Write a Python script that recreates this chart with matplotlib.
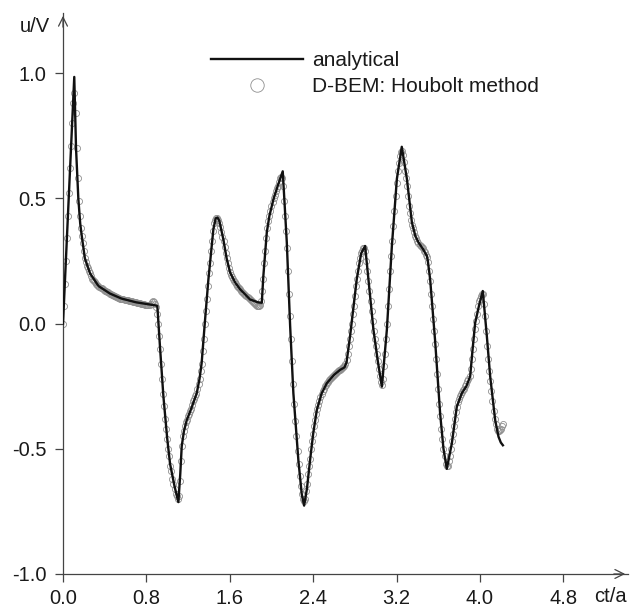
import numpy as np
import matplotlib.pyplot as plt

plt.rcParams['font.family'] = ['Liberation Sans', 'DejaVu Sans']
plt.rcParams['axes.unicode_minus'] = False

# analytical solution
t_exact = [0.00, 0.108, 0.125, 0.147, 0.165, 0.18, 0.21, 0.26, 0.34, 0.45,
           0.56, 0.70, 0.88, 0.905, 0.93, 0.963, 1.00, 1.027, 1.07, 1.107,
           1.125, 1.139, 1.16, 1.187, 1.23, 1.283, 1.31, 1.33, 1.363, 1.395,
           1.443, 1.465, 1.481, 1.50, 1.538, 1.57, 1.603, 1.65, 1.699, 1.795,
           1.87, 1.907, 1.922, 1.955, 1.98, 2.02, 2.06, 2.108, 2.147, 2.179,
           2.21, 2.258, 2.29, 2.313, 2.34, 2.37, 2.40, 2.435, 2.48, 2.531,
           2.60, 2.658, 2.70, 2.72, 2.754, 2.785, 2.818, 2.86, 2.898, 2.93,
           2.978, 3.02, 3.059, 3.107, 3.155, 3.203, 3.25, 3.299, 3.347, 3.38,
           3.41, 3.45, 3.491, 3.50, 3.522, 3.57, 3.618, 3.65, 3.682, 3.73,
           3.778, 3.826, 3.87, 3.906, 3.93, 3.954, 3.99, 4.027, 4.066, 4.098,
           4.146, 4.178, 4.20, 4.22]
u_exact = [0.00, 0.985, 0.70, 0.50, 0.40, 0.35, 0.26, 0.20, 0.15, 0.12,
           0.10, 0.085, 0.073, 0.07, -0.09, -0.29, -0.46, -0.56, -0.65, -0.713,
           -0.60, -0.49, -0.43, -0.386, -0.34, -0.278, -0.22, -0.158, 0.016, 0.177,
           0.378, 0.42, 0.424, 0.41, 0.337, 0.26, 0.204, 0.165, 0.137, 0.096,
           0.085, 0.083, 0.19, 0.364, 0.43, 0.498, 0.55, 0.608, 0.324, -0.01,
           -0.278, -0.546, -0.68, -0.727, -0.66, -0.546, -0.44, -0.345, -0.28, -0.238,
           -0.205, -0.185, -0.175, -0.155, -0.05, 0.06, 0.177, 0.28, 0.31, 0.177,
           -0.024, -0.15, -0.252, -0.024, 0.31, 0.578, 0.706, 0.578, 0.404, 0.35,
           0.324, 0.30, 0.27, 0.25, 0.177, -0.07, -0.36, -0.50, -0.58, -0.479,
           -0.332, -0.278, -0.25, -0.211, -0.10, 0.003, 0.07, 0.13, -0.05, -0.211,
           -0.386, -0.452, -0.475, -0.486]

# D-BEM (Houbolt) samples, time step 0.01
dt = 0.01
u_bem = [
    0.00, 0.07, 0.16, 0.25, 0.34, 0.43, 0.52, 0.62, 0.71, 0.80,
    0.88, 0.92, 0.84, 0.70, 0.58, 0.49, 0.43, 0.38, 0.35, 0.32,
    0.29, 0.26, 0.245, 0.23, 0.22, 0.21, 0.20, 0.19, 0.18, 0.175,
    0.17, 0.165, 0.16, 0.155, 0.15, 0.147, 0.144, 0.141, 0.138, 0.135,
    0.132, 0.130, 0.127, 0.125, 0.122, 0.12, 0.118, 0.116, 0.114, 0.112,
    0.11, 0.108, 0.106, 0.104, 0.102, 0.10, 0.099, 0.098, 0.097, 0.096,
    0.095, 0.094, 0.093, 0.092, 0.091, 0.090, 0.089, 0.088, 0.087, 0.086,
    0.085, 0.084, 0.083, 0.082, 0.081, 0.080, 0.079, 0.078, 0.077, 0.076,
    0.076, 0.075, 0.075, 0.075, 0.078, 0.085, 0.09, 0.088, 0.078, 0.065,
    0.04, 0.00, -0.05, -0.10, -0.16, -0.22, -0.28, -0.33, -0.38, -0.42,
    -0.46, -0.50, -0.53, -0.57, -0.59, -0.62, -0.64, -0.66, -0.68, -0.69,
    -0.70, -0.69, -0.63, -0.55, -0.49, -0.45, -0.43, -0.41, -0.395, -0.385,
    -0.37, -0.36, -0.35, -0.34, -0.325, -0.31, -0.30, -0.29, -0.28, -0.26,
    -0.24, -0.22, -0.19, -0.16, -0.11, -0.06, 0.00, 0.05, 0.10, 0.15,
    0.20, 0.24, 0.29, 0.33, 0.37, 0.40, 0.415, 0.42, 0.42, 0.415,
    0.40, 0.385, 0.365, 0.345, 0.33, 0.305, 0.28, 0.26, 0.24, 0.22,
    0.205, 0.195, 0.185, 0.178, 0.17, 0.165, 0.158, 0.152, 0.146, 0.141,
    0.137, 0.132, 0.127, 0.122, 0.118, 0.114, 0.11, 0.106, 0.102, 0.098,
    0.094, 0.09, 0.086, 0.082, 0.078, 0.074, 0.071, 0.069, 0.07, 0.075,
    0.09, 0.13, 0.18, 0.24, 0.29, 0.34, 0.38, 0.41, 0.43, 0.45,
    0.47, 0.485, 0.50, 0.515, 0.53, 0.54, 0.55, 0.565, 0.58, 0.585,
    0.58, 0.55, 0.49, 0.43, 0.37, 0.30, 0.21, 0.12, 0.03, -0.06,
    -0.15, -0.24, -0.32, -0.39, -0.45, -0.51, -0.56, -0.61, -0.65, -0.68,
    -0.70, -0.71, -0.70, -0.67, -0.64, -0.60, -0.57, -0.54, -0.50, -0.47,
    -0.44, -0.41, -0.385, -0.36, -0.34, -0.325, -0.31, -0.295, -0.28, -0.27,
    -0.26, -0.25, -0.245, -0.238, -0.232, -0.226, -0.222, -0.218, -0.214, -0.21,
    -0.205, -0.20, -0.197, -0.193, -0.19, -0.187, -0.184, -0.181, -0.178, -0.175,
    -0.17, -0.16, -0.145, -0.12, -0.09, -0.06, -0.03, 0.00, 0.04, 0.07,
    0.11, 0.15, 0.18, 0.21, 0.24, 0.26, 0.28, 0.29, 0.30, 0.30,
    0.29, 0.25, 0.21, 0.17, 0.13, 0.09, 0.05, 0.01, -0.03, -0.06,
    -0.09, -0.12, -0.15, -0.18, -0.21, -0.235, -0.245, -0.22, -0.17, -0.12,
    -0.06, 0.00, 0.07, 0.14, 0.21, 0.27, 0.33, 0.39, 0.45, 0.51,
    0.56, 0.61, 0.64, 0.67, 0.685, 0.69, 0.675, 0.645, 0.61, 0.58,
    0.55, 0.51, 0.47, 0.44, 0.415, 0.395, 0.38, 0.365, 0.35, 0.34,
    0.33, 0.32, 0.315, 0.31, 0.305, 0.30, 0.29, 0.285, 0.275, 0.265,
    0.245, 0.21, 0.17, 0.12, 0.07, 0.02, -0.03, -0.08, -0.14, -0.20,
    -0.26, -0.32, -0.37, -0.42, -0.46, -0.50, -0.53, -0.56, -0.57, -0.57,
    -0.55, -0.53, -0.50, -0.47, -0.44, -0.41, -0.38, -0.355, -0.335, -0.315,
    -0.30, -0.29, -0.28, -0.275, -0.265, -0.26, -0.25, -0.24, -0.23, -0.22,
    -0.21, -0.18, -0.14, -0.10, -0.06, -0.02, 0.01, 0.04, 0.07, 0.09,
    0.10, 0.11, 0.12, 0.12, 0.08, 0.03, -0.03, -0.09, -0.14, -0.19,
    -0.23, -0.27, -0.31, -0.35, -0.38, -0.40, -0.42, -0.43, -0.43, -0.425,
    -0.42, -0.41, -0.40]
t_bem = np.arange(len(u_bem)) * dt

x_ticks = [0.0, 0.8, 1.6, 2.4, 3.2, 4.0, 4.8]
y_ticks = [-1.0, -0.5, 0.0, 0.5, 1.0]

fig = plt.figure(figsize=(6.3, 6.11), dpi=100)
ax = fig.add_axes([0.1, 0.0606, 0.8968, 0.918])

ax.plot(t_bem, u_bem, 'o', ms=4.4, mfc='none', mec='#8f8f8f', mew=0.6,
        label='D-BEM: Houbolt method', zorder=2)
ax.plot(t_exact, u_exact, '-', color='#111111', lw=1.7,
        label='analytical', zorder=3)

ax.set_xlim(0, 5.42)
ax.set_ylim(-1.0, 1.24)
ax.set_xticks(x_ticks)
ax.set_yticks(y_ticks)
ax.set_xticklabels(['%.1f' % v for v in x_ticks])
ax.set_yticklabels(['%.1f' % v for v in y_ticks])

axis_col = '#444444'
for s in ['top', 'right']:
    ax.spines[s].set_visible(False)
for s in ['left', 'bottom']:
    ax.spines[s].set_color(axis_col)
    ax.spines[s].set_linewidth(0.9)
ax.tick_params(direction='out', length=6, width=0.9, color=axis_col,
               labelsize=14.5, labelcolor='#1a1a1a')
ax.tick_params(axis='x', pad=5)
ax.tick_params(axis='y', pad=6)

# arrow heads on the axes
ax.annotate('', xy=(1.0, 0), xycoords='axes fraction', xytext=(0.97, 0),
            arrowprops=dict(arrowstyle='->', color=axis_col, lw=0.9,
                            mutation_scale=16), annotation_clip=False)
ax.annotate('', xy=(0, 1.0), xycoords='axes fraction', xytext=(0, 0.97),
            arrowprops=dict(arrowstyle='->', color=axis_col, lw=0.9,
                            mutation_scale=16), annotation_clip=False)

fig.text(35 / 630, 1 - 27 / 611, 'u/V', fontsize=14.5, ha='center', va='center',
         color='#1a1a1a')
fig.text(610 / 630, 1 - 596 / 611, 'ct/a', fontsize=14.5, ha='center', va='center',
         color='#1a1a1a')

h, l = ax.get_legend_handles_labels()
leg = fig.legend(h[::-1], l[::-1], loc='upper left',
                 bbox_to_anchor=(211 / 630, 1 - 51 / 611),
                 frameon=False, fontsize=15, handlelength=4.4,
                 handletextpad=0.45, labelspacing=0.35, borderpad=0,
                 borderaxespad=0, numpoints=1, markerscale=2.2)
for t in leg.get_texts():
    t.set_color('#1a1a1a')

fig.savefig('out.png', dpi=100)
